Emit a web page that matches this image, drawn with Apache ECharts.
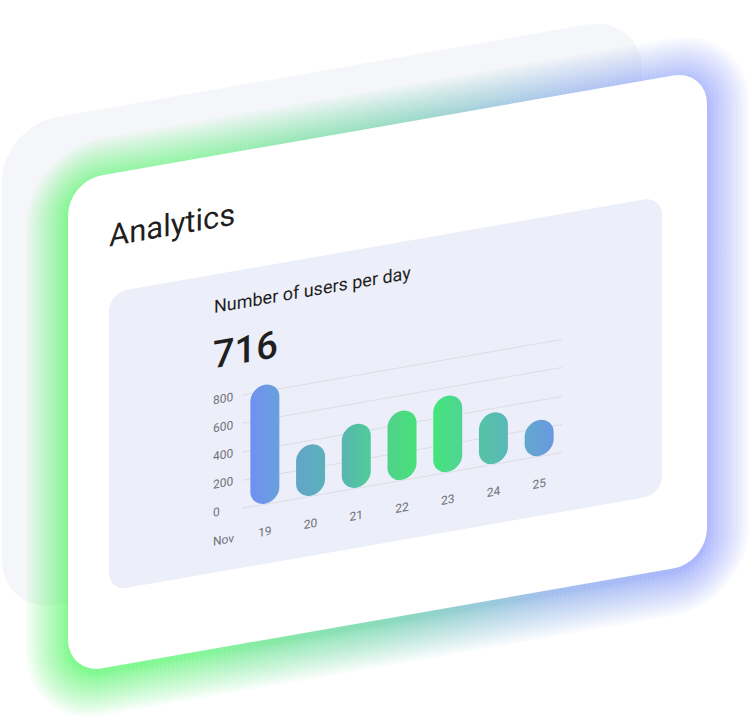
<!DOCTYPE html>
<html>
<head>
<meta charset="utf-8">
<script src="https://cdn.jsdelivr.net/npm/echarts@6/dist/echarts.min.js"></script>
<style>
html,body{margin:0;padding:0;background:#ffffff;}
#wrap{position:relative;width:752px;height:722px;overflow:hidden;background:#fff;}
#chart{position:absolute;left:0;top:0;width:752px;height:860px;transform:skewY(-9.9deg);transform-origin:0 0;}
</style>
</head>
<body>
<div id="wrap"><div id="chart"></div></div>
<script>
// ---- data ----
const days = ['19', '20', '21', '22', '23', '24', '25'];
const monthLabel = 'Nov';
const users = [848, 365, 455, 492, 542, 365, 255];
const headline = '716';
const yTicks = [0, 200, 400, 600, 800];
const pageTitle = 'Analytics';
const chartTitle = 'Number of users per day';

// ---- layout (unskewed canvas coordinates) ----
const FONT = 'Roboto, "Open Sans", sans-serif';
const card = {x: 68, y: 193, w: 639, h: 493, r: 34};
const glowLayers = [];
const N = 22;
for (let i = N; i >= 1; i--) {
  const e = 42 * Math.pow(i / N, 1.7);
  glowLayers.push({
    type: 'rect', silent: true, z: 1,
    shape: {x: card.x - e, y: card.y - e + 5, width: card.w + 2 * e, height: card.h + 2 * e, r: card.r + e},
    style: {
      opacity: 0.055,
      fill: {type: 'linear', x: 0, y: 0, x2: 1, y2: 0, colorStops: [
        {offset: 0, color: '#4cf25e'}, {offset: 0.22, color: '#55ee72'},
        {offset: 0.5, color: '#5ccaa2'}, {offset: 0.75, color: '#7fa6e6'},
        {offset: 1, color: '#8c98fa'}]}
    }
  });
}

const chart = echarts.init(document.getElementById('chart'), null, {renderer: 'svg'});
chart.setOption({
  animation: false,
  backgroundColor: 'transparent',
  graphic: [
    {type: 'rect', silent: true, z: 0, shape: {x: 2, y: 127, width: 640, height: 488, r: 55}, style: {fill: '#f5f6f9'}},
    ...glowLayers,
    {type: 'rect', silent: true, z: 2, shape: {x: card.x, y: card.y, width: card.w, height: card.h, r: card.r}, style: {fill: '#ffffff'}},
    {type: 'rect', silent: true, z: 3, shape: {x: 109, y: 312, width: 553, height: 298, r: 18}, style: {fill: '#eceef9'}},
    {type: 'text', silent: true, z: 4, style: {text: pageTitle, x: 109, y: 255, font: '400 31px ' + FONT, fill: '#1f1f22', align: 'left', verticalAlign: 'middle', textAlign: 'left', textVerticalAlign: 'middle'}},
    {type: 'text', silent: true, z: 4, style: {text: chartTitle, x: 214, y: 344, font: '400 18px ' + FONT, fill: '#1f1f22', align: 'left', verticalAlign: 'middle', textAlign: 'left', textVerticalAlign: 'middle'}},
    {type: 'text', silent: true, z: 4, style: {text: headline, x: 213, y: 392, font: '500 38px ' + FONT, fill: '#1f1f22', align: 'left', verticalAlign: 'middle', textAlign: 'left', textVerticalAlign: 'middle'}},
    {type: 'text', silent: true, z: 4, style: {text: monthLabel, x: 213, y: 579, font: '400 12px ' + FONT, fill: '#707078', align: 'left', verticalAlign: 'middle', textAlign: 'left', textVerticalAlign: 'middle'}}
  ],
  grid: {left: 242, top: 437.6, width: 320, height: 112.4, containLabel: false},
  xAxis: {
    type: 'category', data: days, z: 10,
    axisLine: {show: false}, axisTick: {show: false},
    axisLabel: {margin: 22, color: '#707078', fontSize: 12, fontFamily: FONT}
  },
  yAxis: {
    type: 'value', min: 0, max: 800, interval: 200, z: 10,
    axisLine: {show: false}, axisTick: {show: false},
    axisLabel: {align: 'left', margin: 29, color: '#707078', fontSize: 12, fontFamily: FONT,
      formatter: v => yTicks.includes(v) ? String(v) : ''},
    splitLine: {lineStyle: {color: '#dcdde4', width: 1}}
  },
  series: [{
    type: 'bar', data: users, barWidth: 29, clip: false, z: 11,
    itemStyle: {
      borderRadius: 14.5,
      color: {type: 'linear', x: 250, y: 0, x2: 554, y2: 0, global: true, colorStops: [
        {offset: 0, color: '#7090f2'}, {offset: 0.095, color: '#68a0dc'},
        {offset: 0.151, color: '#62a5c8'}, {offset: 0.247, color: '#5cb0bc'},
        {offset: 0.303, color: '#58b5b0'}, {offset: 0.398, color: '#50cc98'},
        {offset: 0.454, color: '#50d28a'}, {offset: 0.546, color: '#48e07a'},
        {offset: 0.602, color: '#45e57a'}, {offset: 0.697, color: '#50d494'},
        {offset: 0.757, color: '#55c3a5'}, {offset: 0.849, color: '#5ab8b8'},
        {offset: 0.905, color: '#62a8cc'}, {offset: 1, color: '#6a98e2'}]}
    }
  }]
});
</script>
</body>
</html>
